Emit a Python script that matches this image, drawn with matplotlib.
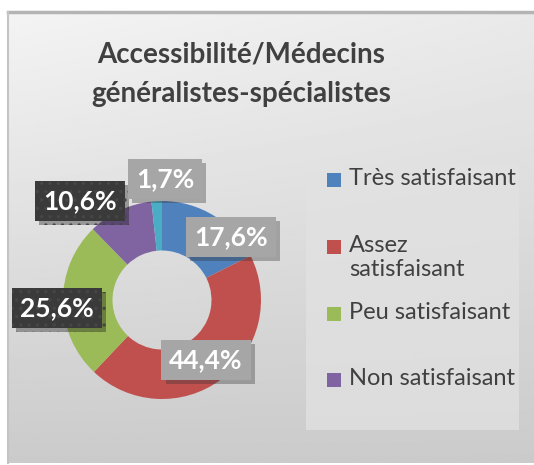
import numpy as np
import matplotlib
matplotlib.use("Agg")
import matplotlib.pyplot as plt
import matplotlib.patheffects as pe
from matplotlib.patches import Rectangle

plt.rcParams['font.family'] = ['Lato', 'DejaVu Sans']
plt.rcParams['hatch.linewidth'] = 1.2

# data
categories = ["Très satisfaisant", "Assez satisfaisant", "Peu satisfaisant",
              "Non satisfaisant", "Sans réponse"]
values = [17.6, 44.4, 25.6, 10.6, 1.7]
legend_labels = ["Très satisfaisant", "Assez\nsatisfaisant", "Peu satisfaisant",
                 "Non satisfaisant"]
colors = ["#4F81BD", "#C0504D", "#9BBB59", "#8064A2", "#4BACC6"]

W, H = 534, 465
fig = plt.figure(figsize=(W / 100, H / 100), dpi=100)
fig.patch.set_facecolor("white")

def fx(x):
    return x / W

def fy(y):
    return 1 - y / H

# background chart area with gradient
bg = fig.add_axes([fx(8), fy(463), fx(526), (463 - 12) / H])
yy, xx = np.mgrid[0:1:200j, 0:1:200j]
grad = 0.955 - 0.16 * yy - 0.04 * xx * (1 - yy)
bg.imshow(grad, cmap="gray", vmin=0, vmax=1, aspect="auto",
          extent=[0, 1, 0, 1], origin="upper")
bg.set_xticks([])
bg.set_yticks([])
for s in bg.spines.values():
    s.set_visible(False)
bg.plot([0, 1], [1, 1], color="#B4B4B4", lw=2.5, transform=bg.transAxes, clip_on=False)
bg.plot([0, 0], [0, 1], color="#C4C4C4", lw=1.5, transform=bg.transAxes, clip_on=False)

# title
fig.text(fx(241), fy(55), "Accessibilité/Médecins", ha="center", va="center",
         fontsize=20, fontweight="bold", color="#404040")
fig.text(fx(241), fy(94), "généralistes-spécialistes", ha="center", va="center",
         fontsize=20, fontweight="bold", color="#404040")

# donut
cx, cy, r = 162, 300, 99
ax = fig.add_axes([fx(cx - r), fy(cy + r), fx(2 * r), 2 * r / H])
ax.axis("off")
wedges, _ = ax.pie(values, colors=colors, startangle=90, counterclock=False,
                   radius=1, wedgeprops=dict(width=0.5, linewidth=0))
ax.set_xlim(-1, 1)
ax.set_ylim(-1, 1)

# data labels (pixel positions of the label boxes)
label_pos = [(231, 237), (206, 360), (57, 308), (80, 201), (165, 179)]
dark = [False, False, True, True, False]
for v, (px, py), d in zip(values, label_pos, dark):
    txt = fig.text(fx(px), fy(py), f"{v:.1f}%".replace(".", ","), ha="center",
                   va="center", fontsize=19, fontweight="bold", color="white",
                   bbox=dict(boxstyle="square,pad=0.3",
                             facecolor="#3A3A3A" if d else "#A6A6A6",
                             edgecolor="#464646" if d else "none",
                             linewidth=0,
                             hatch=".." if d else None))
    txt.get_bbox_patch().set_path_effects(
        [pe.SimplePatchShadow(offset=(3, -3), alpha=0.35), pe.Normal()])

# legend
fig.patches.append(Rectangle((fx(306), fy(430)), fx(213), (430 - 164) / H,
                             transform=fig.transFigure, facecolor="#E2E2E2",
                             edgecolor="none", alpha=0.75, zorder=1))
leg_y = [180, 247, 314, 380]
for lab, col, y in zip(legend_labels, colors, leg_y):
    fig.patches.append(Rectangle((fx(327), fy(y + 7)), fx(14), 14 / H,
                                 transform=fig.transFigure, facecolor=col,
                                 edgecolor="none", zorder=2))
    fig.text(fx(349), fy(y - 12), lab, ha="left", va="top", fontsize=17,
             color="#404040", linespacing=1.2)

fig.savefig("out.png", dpi=100)
